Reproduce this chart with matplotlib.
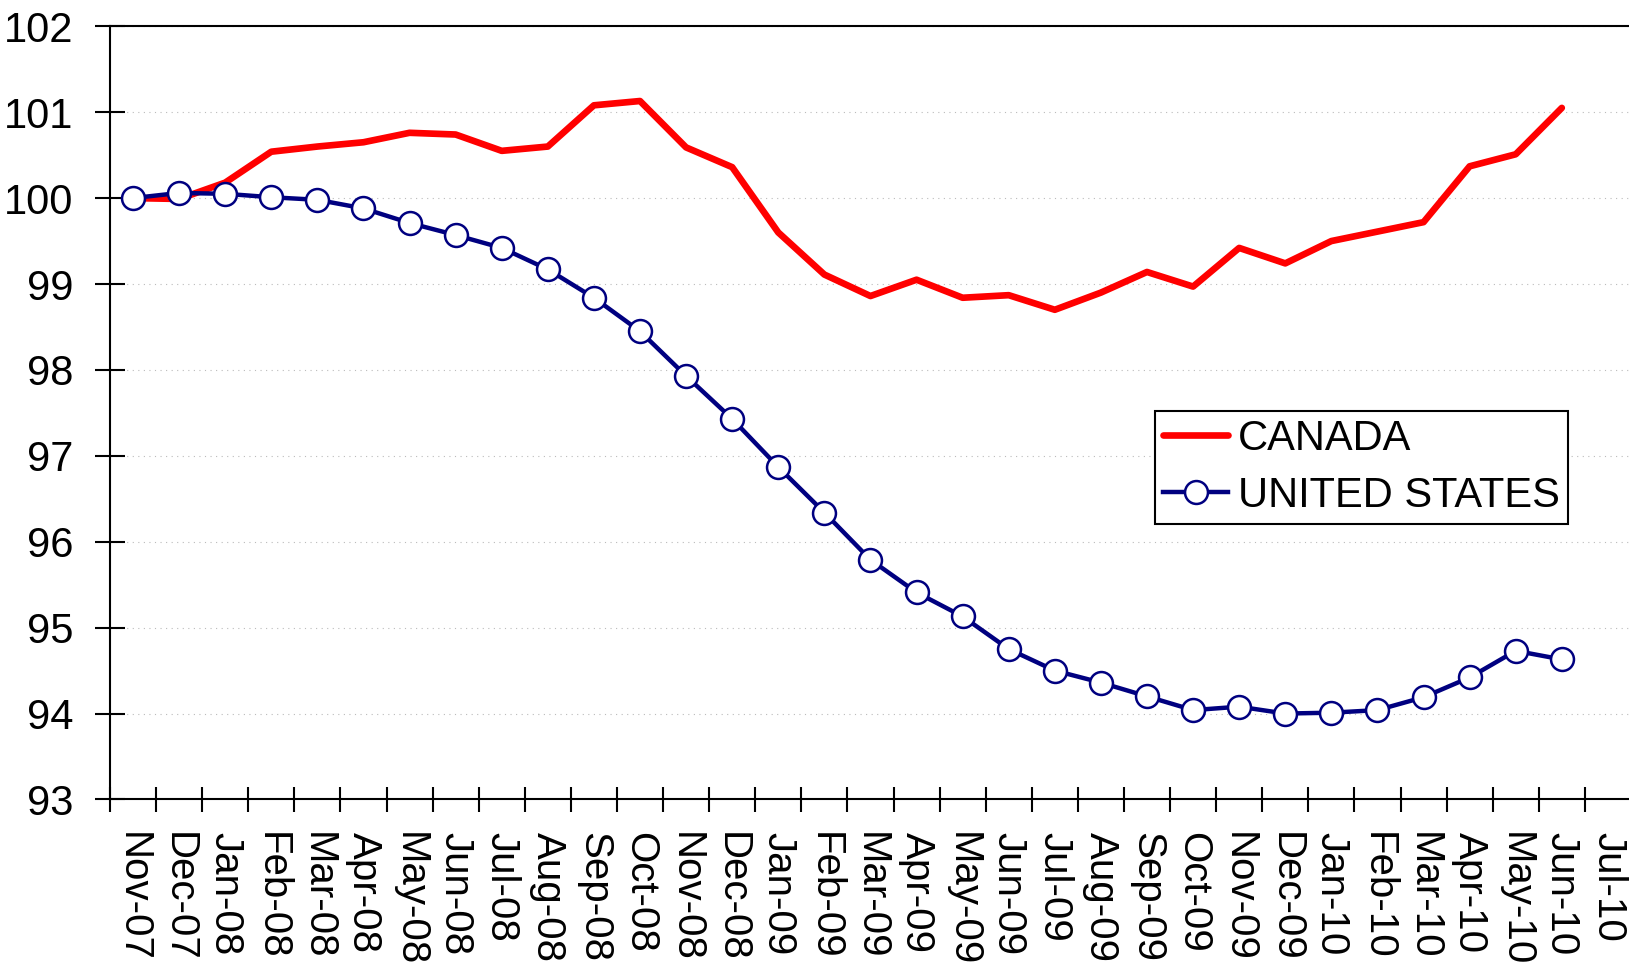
import numpy as np
import matplotlib.pyplot as plt

plt.rcParams['font.family'] = ['Liberation Sans', 'DejaVu Sans']

months = ['Nov-07', 'Dec-07', 'Jan-08', 'Feb-08', 'Mar-08', 'Apr-08', 'May-08',
          'Jun-08', 'Jul-08', 'Aug-08', 'Sep-08', 'Oct-08', 'Nov-08', 'Dec-08',
          'Jan-09', 'Feb-09', 'Mar-09', 'Apr-09', 'May-09', 'Jun-09', 'Jul-09',
          'Aug-09', 'Sep-09', 'Oct-09', 'Nov-09', 'Dec-09', 'Jan-10', 'Feb-10',
          'Mar-10', 'Apr-10', 'May-10', 'Jun-10', 'Jul-10']

canada = [100.00, 99.99, 100.18, 100.54, 100.60, 100.65, 100.76, 100.74,
          100.55, 100.60, 101.08, 101.13, 100.59, 100.36, 99.60, 99.11,
          98.86, 99.05, 98.84, 98.87, 98.70, 98.90, 99.14, 98.97,
          99.42, 99.24, 99.50, 99.61, 99.72, 100.37, 100.51, 101.05]

united_states = [100.00, 100.06, 100.05, 100.01, 99.98, 99.88, 99.71, 99.57,
                 99.42, 99.17, 98.84, 98.45, 97.93, 97.43, 96.87, 96.34,
                 95.79, 95.41, 95.13, 94.75, 94.50, 94.36, 94.20, 94.04,
                 94.08, 94.00, 94.01, 94.04, 94.19, 94.42, 94.73, 94.63]

fig = plt.figure(figsize=(16.29, 9.66), dpi=100)
ax = fig.add_axes([0.0675, 0.1724, 0.9337, 0.8004])

x = np.arange(len(canada))
ax.plot(x, canada, '-', color='#ff0000', lw=4.8, solid_capstyle='round',
        label='CANADA', zorder=3)
ax.plot(x, united_states, 'o-', color='#000080', lw=3.2, ms=16.5,
        mfc='white', mec='#000080', mew=1.8, label='UNITED STATES', zorder=4)

ax.set_xlim(-0.5, len(months) - 0.5)
ax.set_ylim(93, 102)
ax.set_yticks(np.arange(93, 103))
ax.yaxis.grid(True, linestyle=(0, (1, 4)), color='#bbbbbb', lw=0.8)
ax.set_axisbelow(True)

# labels at category centres, tick marks at category boundaries
ax.set_xticks(np.arange(len(months)))
ax.set_xticklabels(months, rotation=270, fontsize=29, va='top', ha='center')
ax.set_xticks(np.arange(len(months) + 1) - 0.5, minor=True)
ax.tick_params(axis='x', which='major', length=0, pad=23.5)
ax.tick_params(axis='x', which='minor', direction='inout', length=18,
               width=1.5, color='black')
ax.tick_params(axis='y', direction='inout', length=21, width=1.5,
               labelsize=30, pad=16)

for side in ['left', 'bottom', 'top']:
    ax.spines[side].set_linewidth(1.5)
ax.spines['right'].set_visible(False)

leg = ax.legend(loc='upper left', bbox_to_anchor=(0.687, 0.503),
                borderaxespad=0, fontsize=30, fancybox=False, framealpha=1,
                edgecolor='black', handlelength=1.55, handletextpad=0.25,
                borderpad=0.2, labelspacing=0.4)
leg.get_frame().set_linewidth(1.5)

fig.savefig('out.png', dpi=100)
